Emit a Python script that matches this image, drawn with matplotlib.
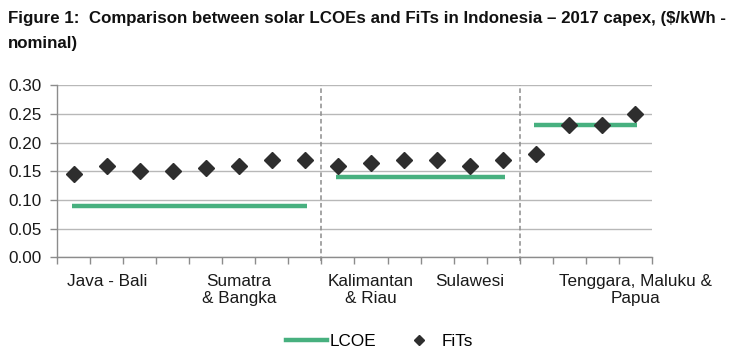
import matplotlib
matplotlib.use("Agg")
import matplotlib.pyplot as plt
from matplotlib.lines import Line2D
import numpy as np

plt.rcParams['font.family'] = ['Liberation Sans', 'DejaVu Sans']

# ---- data ----
category_labels = ["", "Java - Bali", "", "", "", "Sumatra\n& Bangka", "", "",
                   "", "Kalimantan\n& Riau", "", "", "Sulawesi", "",
                   "", "", "", "Tenggara, Maluku &\nPapua"]
fits = [0.145, 0.16, 0.15, 0.15, 0.155, 0.16, 0.17, 0.17,
        0.16, 0.165, 0.17, 0.17, 0.16, 0.17,
        0.18, 0.23, 0.23, 0.25]
lcoe_groups = [(0, 7), (8, 13), (14, 17)]   # category index ranges
lcoe_values = [0.09, 0.14, 0.23]
dividers = [7.5, 13.5]
yticks = [0.00, 0.05, 0.10, 0.15, 0.20, 0.25, 0.30]

green = '#47b07f'
dark = '#2e2e2e'
grid_c = '#b8b8b8'

fig = plt.figure(figsize=(7.46, 3.64), dpi=100)
ax = fig.add_axes([0.0768, 0.2931, 0.7968, 0.4726])

x = np.arange(len(fits))
for (a, b), v in zip(lcoe_groups, lcoe_values):
    ax.plot([x[a] - 0.05, x[b] + 0.05], [v, v], color=green, lw=3.2,
            solid_capstyle='butt', zorder=3)
ax.plot(x, fits, linestyle='none', marker='D', markersize=8,
        color=dark, markeredgecolor=dark, zorder=4)

for d in dividers:
    ax.axvline(d, color='#8c8c8c', lw=1.1, ls=(0, (3, 2)), ymin=-0.02, ymax=1.0,
               clip_on=False, zorder=2)

ax.set_xlim(-0.5, len(fits) - 0.5)
ax.set_ylim(0, 0.30)
ax.set_yticks(yticks)
ax.set_yticklabels([f"{v:.2f}" for v in yticks], fontsize=12.3, color='#1a1a1a')
ax.yaxis.grid(True, color=grid_c, lw=1)
ax.set_axisbelow(True)

ax.set_xticks(x)
ax.set_xticklabels(category_labels, fontsize=12.3, color='#1a1a1a',
                   linespacing=1.15)
ax.tick_params(axis='x', which='major', length=0, pad=12)
ax.set_xticks(np.arange(-0.5, len(fits)), minor=True)
ax.tick_params(axis='x', which='minor', length=5, color='#8c8c8c', width=1)
ax.tick_params(axis='y', length=5, color='#8c8c8c', width=1, pad=6)

for s in ['top', 'right']:
    ax.spines[s].set_visible(False)
for s in ['left', 'bottom']:
    ax.spines[s].set_color('#8c8c8c')
    ax.spines[s].set_linewidth(1)

fig.text(0.011, 0.970, "Figure 1:  Comparison between solar LCOEs and FiTs in Indonesia \u2013 2017 capex, ($/kWh -\nnominal)",
         fontsize=12.2, fontweight='bold', va='top', ha='left', linespacing=1.88,
         color='#111111')

handles = [Line2D([], [], color=green, lw=3.2),
           Line2D([], [], ls='none', marker='D', markersize=5.5, color=dark)]
fig.legend(handles, ['LCOE', 'FiTs'], loc='center', bbox_to_anchor=(0.509, 0.063),
           ncol=2, frameon=False, fontsize=12.3, handlelength=2.4,
           columnspacing=1.25, handletextpad=0.15)

fig.savefig('out.png', dpi=100)
